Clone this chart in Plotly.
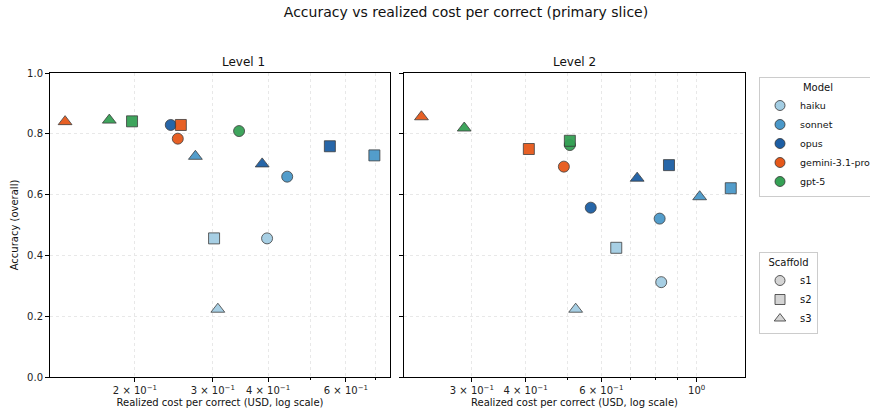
import math
import plotly.graph_objects as go

models = ["haiku", "sonnet", "opus", "gemini-3.1-pro", "gpt-5"]
scaffolds = ["s1", "s2", "s3"]
model_colors = ["#a3cde3", "#4a98c9", "#1c5ea4", "#e6581a", "#35a155"]
scaffold_symbols = ["circle", "square", "triangle-up"]

# Level 1: cost per correct (USD) and accuracy, indexed [model][scaffold]
l1_cost = [
    [0.398, 0.302, 0.308],
    [0.442, 0.696, 0.274],
    [0.241, 0.552, 0.388],
    [0.250, 0.254, 0.139],
    [0.344, 0.197, 0.175],
]
l1_acc = [
    [0.456, 0.456, 0.223],
    [0.659, 0.729, 0.726],
    [0.829, 0.759, 0.701],
    [0.784, 0.829, 0.840],
    [0.809, 0.841, 0.845],
]
# Level 2
l2_cost = [
    [0.827, 0.650, 0.523],
    [0.820, 1.200, 1.016],
    [0.567, 0.862, 0.727],
    [0.491, 0.407, 0.229],
    [0.507, 0.507, 0.288],
]
l2_acc = [
    [0.312, 0.425, 0.223],
    [0.521, 0.621, 0.593],
    [0.557, 0.697, 0.654],
    [0.692, 0.750, 0.856],
    [0.763, 0.777, 0.819],
]

l1_ticks = [0.2, 0.3, 0.4, 0.6]
l1_ticktext = ["2 × 10<sup>−1</sup>", "3 × 10<sup>−1</sup>", "4 × 10<sup>−1</sup>", "6 × 10<sup>−1</sup>"]
l1_minor = [0.5, 0.7]
l2_ticks = [0.3, 0.4, 0.6, 1.0]
l2_ticktext = ["3 × 10<sup>−1</sup>", "4 × 10<sup>−1</sup>", "6 × 10<sup>−1</sup>", "10<sup>0</sup>"]
l2_minor = [0.5, 0.7, 0.8, 0.9]
y_ticks = [0.0, 0.2, 0.4, 0.6, 0.8, 1.0]

FONT = "DejaVu Sans"
EDGE = "#333333"
GRID = "#e8e8e8"

fig = go.Figure()

sym_size = {"circle": 11, "square": 11, "triangle-up": 12}

for panel, (costs, accs) in enumerate([(l1_cost, l1_acc), (l2_cost, l2_acc)]):
    xa = "x" if panel == 0 else "x2"
    ya = "y" if panel == 0 else "y2"
    for mi, m in enumerate(models):
        for si, s in enumerate(scaffolds):
            fig.add_trace(go.Scatter(
                x=[costs[mi][si]], y=[accs[mi][si]], mode="markers",
                xaxis=xa, yaxis=ya, showlegend=False,
                marker=dict(color=model_colors[mi], symbol=scaffold_symbols[si],
                            size=sym_size[scaffold_symbols[si]], opacity=0.95,
                            line=dict(color=EDGE, width=0.8)),
                hovertext=f"{m} {s}",
            ))

# Legend entries
for mi, m in enumerate(models):
    fig.add_trace(go.Scatter(
        x=[None], y=[None], mode="markers", name=m, legend="legend",
        marker=dict(color=model_colors[mi], symbol="circle", size=10,
                    line=dict(color=EDGE, width=0.8)),
    ))
for si, s in enumerate(scaffolds):
    fig.add_trace(go.Scatter(
        x=[None], y=[None], mode="markers", name=s, legend="legend2",
        marker=dict(color="#d4d4d4", symbol=scaffold_symbols[si], size=10,
                    line=dict(color=EDGE, width=0.8)),
    ))

W, H = 870, 415
L, R, T, B = 50, 0, 73, 415 - 377
pw = W - L - R  # 820
ph = H - T - B  # 304

def xaxis(rng, ticks, text, minor, domain):
    return dict(
        type="log", range=rng, domain=domain, automargin=False,
        tickvals=ticks, ticktext=text, ticks="outside", ticklen=4, tickwidth=0.8,
        tickcolor="#000", showgrid=True, gridcolor=GRID, griddash="dot", gridwidth=0.8,
        minor=dict(tickvals=minor, ticks="outside", ticklen=2, tickcolor="#000",
                   showgrid=True, gridcolor=GRID, griddash="dot", gridwidth=0.8),
        showline=True, linecolor="#000", linewidth=1, mirror=True,
        zeroline=False, tickfont=dict(size=10, color="#222"),
        title=dict(text="Realized cost per correct (USD, log scale)",
                   font=dict(size=10, color="#111"), standoff=3),
    )

l1_range = [math.log10(0.1285), math.log10(0.755)]
l2_range = [(404 - 696.7) / 430, (745 - 696.7) / 430]

fig.update_layout(
    width=W, height=H,
    margin=dict(l=L, r=R, t=T, b=B, autoexpand=False),
    paper_bgcolor="white", plot_bgcolor="white",
    font=dict(family=FONT, color="#111"),
    title=dict(text="Accuracy vs realized cost per correct (primary slice)",
               x=466 / W, xanchor="center", y=1 - 12 / H, yanchor="middle",
               font=dict(size=14, color="#111")),
    xaxis=xaxis(l1_range, l1_ticks, l1_ticktext, l1_minor, [0, 340 / pw]),
    xaxis2=xaxis(l2_range, l2_ticks, l2_ticktext, l2_minor, [354 / pw, 695 / pw]),
    yaxis=dict(range=[0, 1], tickvals=y_ticks, ticktext=[f"{v:.1f}" for v in y_ticks],
               automargin=False,
               ticks="outside", ticklen=4, tickwidth=0.8, tickcolor="#000",
               showgrid=True, gridcolor=GRID, griddash="dot", gridwidth=0.8,
               showline=True, linecolor="#000", linewidth=1, mirror=True, zeroline=False,
               tickfont=dict(size=10, color="#222"),
               title=dict(text="Accuracy (overall)", font=dict(size=10, color="#111"), standoff=6)),
    yaxis2=dict(range=[0, 1], anchor="x2", matches="y", tickvals=y_ticks, showticklabels=False,
                automargin=False,
                ticks="outside", ticklen=4, tickwidth=0.8, tickcolor="#000",
                showgrid=True, gridcolor=GRID, griddash="dot", gridwidth=0.8,
                showline=True, linecolor="#000", linewidth=1, mirror=True, zeroline=False),
    legend=dict(title=dict(text="Model", side="top center", font=dict(size=10)),
                x=(759 - L) / pw, xanchor="left", y=1 - (77 - T) / ph, yanchor="top",
                bgcolor="white", bordercolor="#cccccc", borderwidth=1,
                font=dict(size=9.5), itemsizing="trace", tracegroupgap=0),
    legend2=dict(title=dict(text="Scaffold", side="top center", font=dict(size=10)),
                 x=(759 - L) / pw, xanchor="left", y=1 - (252 - T) / ph, yanchor="top",
                 bgcolor="white", bordercolor="#cccccc", borderwidth=1,
                 font=dict(size=10), itemsizing="trace"),
    annotations=[
        dict(text="Level 1", x=0.5 * (340 / pw), xref="paper", y=1, yref="paper",
             yanchor="bottom", yshift=2, showarrow=False, font=dict(size=12, color="#111")),
        dict(text="Level 2", x=(354 / pw + 695 / pw) / 2, xref="paper", y=1, yref="paper",
             yanchor="bottom", yshift=2, showarrow=False, font=dict(size=12, color="#111")),
    ],
)

fig.write_html(
    "out.html",
    config={"displayModeBar": False},
    post_script="document.body.style.margin='0';document.body.style.overflow='hidden';",
)
